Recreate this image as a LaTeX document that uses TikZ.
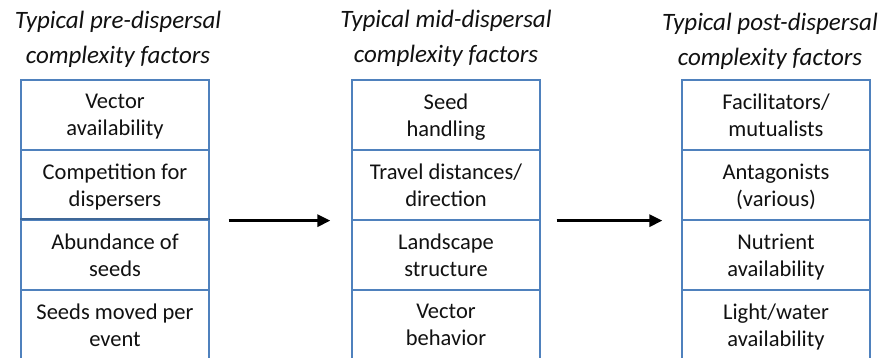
\documentclass[tikz,border=0pt]{standalone}
\usepackage{fontspec}
\setmainfont{Carlito}
\usetikzlibrary{arrows.meta}
\definecolor{boxblue}{HTML}{4F81BD}
\definecolor{txt}{HTML}{111111}
\tikzset{
  factor/.style={draw=boxblue, line width=1.3pt, fill=white, minimum width=188pt, minimum height=70pt,
    inner sep=0pt, align=center, text=txt, font=\fontsize{22.5}{27}\selectfont, text depth=0pt},
  coltitle/.style={align=center, text=txt, font=\fontsize{25}{35}\selectfont\itshape, inner sep=0pt},
  flow/.style={line width=3pt, -{Triangle[length=13pt,width=12pt]}, black}
}
\begin{document}
\begin{tikzpicture}[x=1pt,y=-1pt]
\useasboundingbox (0,0) rectangle (891,358);
\clip (0,0) rectangle (891,358);
% titles
\node[coltitle] (t1) at (118,39) {Typical pre-dispersal\\complexity factors};
\node[coltitle] (t2) at (446,38) {Typical mid-dispersal\\complexity factors};
\node[coltitle] (t3) at (770,41) {Typical post-dispersal\\complexity factors};
% column 1
\node[factor] (a1) at (115,115) {Vector\\availability};
\node[factor] (a2) at (115,185) {Competition for\\dispersers};
\node[factor] (a3) at (115,255) {Abundance of\\seeds};
\node[factor] (a4) at (115,325) {Seeds moved per\\event};
\draw[boxblue!80!black, line width=2.2pt] (a3.north west) -- (a3.north east);
% column 2
\node[factor] (b1) at (446,115) {Seed\\handling};
\node[factor] (b2) at (446,185) {Travel distances/\\direction};
\node[factor] (b3) at (446,255) {Landscape\\structure};
\node[factor] (b4) at (446,325) {Vector\\behavior};
% column 3
\node[factor] (c1) at (776,115) {Facilitators/\\mutualists};
\node[factor] (c2) at (776,185) {Antagonists\\(various)};
\node[factor] (c3) at (776,255) {Nutrient\\availability};
\node[factor] (c4) at (776,325) {Light/water\\availability};
% arrows
\draw[flow, shorten <=19pt, shorten >=21pt] (a2.south east) -- (b2.south west);
\draw[flow, shorten <=16pt, shorten >=19pt] (b2.south east) -- (c2.south west);
\end{tikzpicture}
\end{document}
